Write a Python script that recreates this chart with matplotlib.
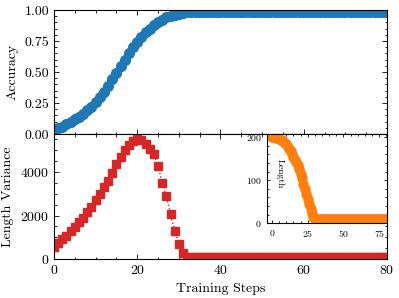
import numpy as np
import matplotlib.pyplot as plt
from matplotlib.ticker import AutoMinorLocator

# Computer Modern look
plt.rcParams['font.family'] = 'serif'
plt.rcParams['font.serif'] = ['cmr10']
plt.rcParams['mathtext.fontset'] = 'cm'
plt.rcParams['axes.formatter.use_mathtext'] = True
plt.rcParams['axes.unicode_minus'] = False
plt.rcParams['font.size'] = 10

# Data
steps = list(range(81))

accuracy = [0.04, 0.05, 0.06, 0.08, 0.10, 0.12, 0.14, 0.16, 0.19, 0.22,
            0.26, 0.30, 0.34, 0.39, 0.44, 0.49, 0.55, 0.60, 0.65, 0.70,
            0.74, 0.78, 0.82, 0.85, 0.88, 0.90, 0.92, 0.94, 0.95, 0.96,
            0.97, 0.975, 0.98, 0.98, 0.98, 0.98, 0.98, 0.98, 0.98, 0.98,
            0.98, 0.98, 0.98, 0.98, 0.98, 0.98, 0.98, 0.98, 0.98, 0.98,
            0.98, 0.98, 0.98, 0.98, 0.98, 0.98, 0.98, 0.98, 0.98, 0.98,
            0.98, 0.98, 0.98, 0.98, 0.98, 0.98, 0.98, 0.98, 0.98, 0.98,
            0.98, 0.98, 0.98, 0.98, 0.98, 0.98, 0.98, 0.98, 0.98, 0.98,
            0.98]

length_variance = [540, 720, 900, 1080, 1270, 1470, 1680, 1900, 2150, 2400,
                   2700, 3000, 3300, 3600, 3950, 4350, 4700, 5000, 5250, 5420,
                   5500, 5470, 5300, 5080, 4820, 4300, 3500, 2880, 2050, 1300,
                   700, 260, 100, 80, 80, 80, 80, 80, 80, 80,
                   80, 80, 80, 80, 80, 80, 80, 80, 80, 80,
                   80, 80, 80, 80, 80, 80, 80, 80, 80, 80,
                   80, 80, 80, 80, 80, 80, 80, 80, 80, 80,
                   80, 80, 80, 80, 80, 80, 80, 80, 80, 80,
                   80]

length = [200, 200, 199, 198, 197, 196, 194, 192, 190, 187,
          183, 178, 173, 167, 160, 153, 146, 142, 134, 125,
          115, 104, 92, 80, 68, 56, 45, 34, 24, 15,
          10, 10, 10, 10, 10, 10, 10, 10, 10, 10,
          10, 10, 10, 10, 10, 10, 10, 10, 10, 10,
          10, 10, 10, 10, 10, 10, 10, 10, 10, 10,
          10, 10, 10, 10, 10, 10, 10, 10, 10, 10,
          10, 10, 10, 10, 10, 10, 10, 10, 10, 10,
          10]


def style_axis(ax, labelsize=10):
    ax.xaxis.set_minor_locator(AutoMinorLocator())
    ax.yaxis.set_minor_locator(AutoMinorLocator())
    ax.tick_params(which='both', direction='in', top=True, right=True,
                   width=0.6, labelsize=labelsize)
    ax.tick_params(which='major', length=3.5)
    ax.tick_params(which='minor', length=1.8)
    for s in ax.spines.values():
        s.set_linewidth(0.8)


fig = plt.figure(figsize=(3.99, 2.98), dpi=100)
ax1 = fig.add_axes([0.1353, 0.5503, 0.8346, 0.4161])
ax2 = fig.add_axes([0.1353, 0.1309, 0.8346, 0.4194], sharex=ax1)

# Top: accuracy
ax1.plot(steps, accuracy, '-o', color='tab:blue', markersize=7, linewidth=1)
ax1.set_ylim(0, 1)
ax1.set_yticks([0, 0.25, 0.5, 0.75, 1.0])
ax1.set_yticklabels(['0.00', '0.25', '0.50', '0.75', '1.00'])
ax1.set_ylabel('Accuracy')
style_axis(ax1)
ax1.tick_params(labelbottom=False)

# Bottom: length variance
ax2.plot(steps, length_variance, ':s', color='tab:red', markersize=6.3, linewidth=1)
ax2.set_xlim(0, 80)
ax2.set_ylim(0, 5750)
ax2.set_yticks([0, 2000, 4000])
ax2.set_xlabel('Training Steps')
ax2.set_ylabel('Length Variance')
style_axis(ax2)

fig.align_ylabels([ax1, ax2])

# Inset: length
ax_in = fig.add_axes([0.6684, 0.2507, 0.3016, 0.2996])
ax_in.plot(steps, length, '-o', color='tab:orange', markersize=6.5, linewidth=1)
ax_in.set_xlim(-3.7, 80.5)
ax_in.set_ylim(0.5, 207)
ax_in.set_xticks([0, 25, 50, 75])
ax_in.set_yticks([0, 100, 200])
style_axis(ax_in, labelsize=7)
ax_in.tick_params(which='major', length=2.5)
ax_in.tick_params(which='minor', length=1.3)
ax_in.text(0.11, 0.55, 'Length', rotation=270, transform=ax_in.transAxes,
           ha='center', va='center', fontsize=7)

fig.savefig('out.png', dpi=100)
